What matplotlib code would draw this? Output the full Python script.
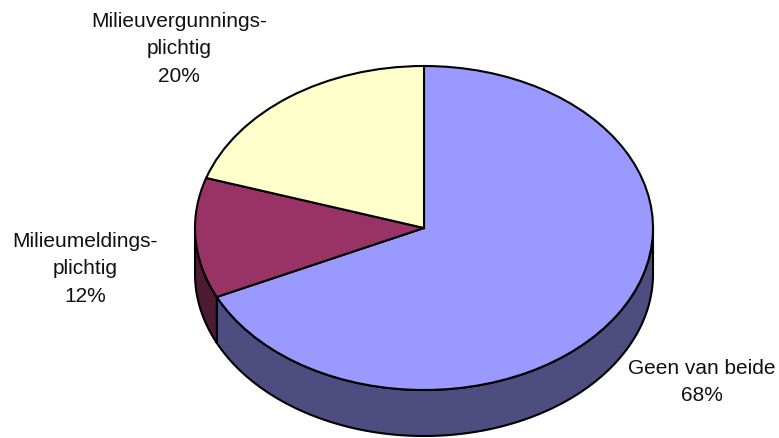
import matplotlib
matplotlib.use('Agg')
import matplotlib.pyplot as plt
import numpy as np

# Data
labels = ['Geen van beide\n68%', 'Milieumeldings-\nplichtig\n12%', 'Milieuvergunnings-\nplichtig\n20%']
values = [68, 12, 20]
colors = ['#9999FF', '#993366', '#FFFFCC']
side_colors = ['#4D4D80', '#4D1A33', '#808066']

# Geometry of the pie in pixels
W, H = 779, 438
cx, cy = 424, 228
rx, ry = 229, 162
depth = 46 / ry
label_px = [(701.5, 382), (85, 269), (179, 49)]

plt.rcParams['font.family'] = ['Liberation Sans', 'DejaVu Sans']

fig = plt.figure(figsize=(W / 100, H / 100), dpi=100)
ax = fig.add_axes([0, 0, 1, 1])


def to_data(px, py):
    return (px - cx) / rx, (cy - py) / ry


# Side wall, only the front half of the rim can be seen
shares = np.array(values) / sum(values) * 360
ends = 90 - np.cumsum(shares)
starts = ends + shares
for a0, a1, col in zip(starts, ends, side_colors):
    for lo, hi in [(a1, a0), (a1 + 360, a0 + 360)]:
        lo, hi = max(lo, 180), min(hi, 360)
        if hi <= lo:
            continue
        t = np.radians(np.linspace(lo, hi, 200))
        xs = np.r_[np.cos(t), np.cos(t[::-1])]
        ys = np.r_[np.sin(t), np.sin(t[::-1]) - depth]
        ax.fill(xs, ys, facecolor=col, edgecolor='black', linewidth=1.5, joinstyle='round')

# Top face
ax.pie(values, colors=colors, startangle=90, counterclock=False, radius=1,
       wedgeprops={'edgecolor': 'black', 'linewidth': 1.5})

ax.set_aspect('auto')
ax.set_xlim(to_data(0, 0)[0], to_data(W, 0)[0])
ax.set_ylim(to_data(0, H)[1], to_data(0, 0)[1])
ax.axis('off')

for text, (px, py) in zip(labels, label_px):
    x, y = to_data(px, py)
    ax.text(x, y, text, ha='center', va='center', fontsize=15, color='#111111', linespacing=1.56)

fig.savefig('out.png', dpi=100)
